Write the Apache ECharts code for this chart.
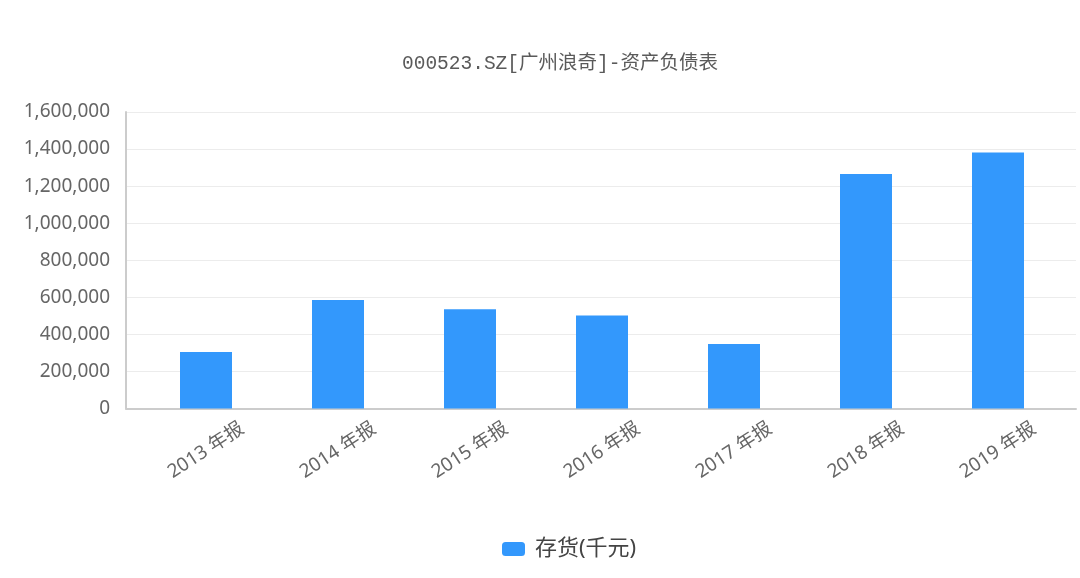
<!DOCTYPE html>
<html><head><meta charset="utf-8">
<script src="https://cdn.jsdelivr.net/npm/echarts@6/dist/echarts.min.js"></script>
<style>html,body{margin:0;padding:0;background:#fff}#c{width:1080px;height:578px}</style>
</head><body><div id="c"></div>
<script>
var titleText = '000523.SZ[广州浪奇]-资产负债表';
var categories = ['2013 年报','2014 年报','2015 年报','2016 年报','2017 年报','2018 年报','2019 年报'];
var seriesName = '存货(千元)';
var inventory = [305000, 585000, 535000, 502000, 348000, 1265000, 1382000];
var yMin = 0, yMax = 1600000, yStep = 200000;

var chart = echarts.init(document.getElementById('c'));
var fontLatin = '"Noto Sans", "Noto Sans CJK SC", sans-serif';
chart.setOption({
  backgroundColor: '#fff',
  animation: false,
  title: {
    text: titleText, left: 397, top: 49,
    textStyle: { fontFamily: '"Liberation Mono", "Noto Sans CJK SC", monospace', fontSize: 19.5, fontWeight: 'normal', color: '#5a5a5a' }
  },
  legend: {
    data: [seriesName], left: 497, top: 533, itemWidth: 23, itemHeight: 14, itemGap: 9,
    icon: 'roundRect',
    textStyle: { fontFamily: fontLatin, fontSize: 22, color: '#444', padding: [0, 0, 0, 5] }
  },
  grid: [
    { left: 126, right: 4, top: 112, bottom: 169.5 },
    { left: 140, right: 16, top: 112, bottom: 169.5 }
  ],
  xAxis: [
    { type: 'category', gridIndex: 0, data: categories,
      axisLine: { lineStyle: { color: '#ccc', width: 2 } },
      axisTick: { show: false }, axisLabel: { show: false } },
    { type: 'category', gridIndex: 1, data: categories,
      axisLine: { show: false }, axisTick: { show: false },
      axisLabel: { rotate: 33, align: 'center', verticalAlign: 'middle', margin: 42,
        fontFamily: fontLatin, fontSize: 19, color: '#666' } }
  ],
  yAxis: [
    { type: 'value', gridIndex: 0, min: yMin, max: yMax, interval: yStep,
      axisLine: { show: true, lineStyle: { color: '#ccc', width: 2 } },
      axisTick: { show: false },
      splitLine: { lineStyle: { color: '#ececec', width: 1 } },
      axisLabel: { margin: 16, fontFamily: fontLatin, fontSize: 19, color: '#666',
        formatter: function (v) { return v.toLocaleString('en-US'); } } },
    { type: 'value', gridIndex: 1, min: yMin, max: yMax, interval: yStep, show: false }
  ],
  series: [{
    name: seriesName, type: 'bar', xAxisIndex: 1, yAxisIndex: 1,
    data: inventory, barWidth: 52,
    itemStyle: { color: '#3398fc' }
  }]
});
</script></body></html>
